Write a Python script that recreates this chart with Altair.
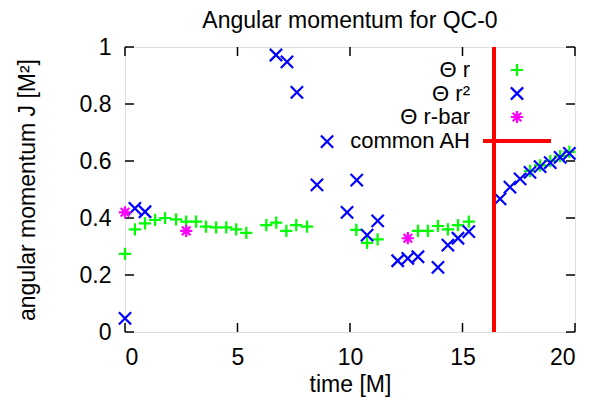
import altair as alt
import pandas as pd

# ---- data ----
r_t = [0, 0.44, 0.89, 1.34, 1.78, 2.27, 2.72, 3.16, 3.6, 4.05, 4.5, 4.94, 5.39,
       6.28, 6.72, 7.17, 7.61, 8.09, 10.28, 10.76, 11.23, 13.02, 13.46, 13.91,
       14.35, 14.8, 15.28, 18.0, 18.45, 18.9, 19.34, 19.75]
r_j = [0.274, 0.36, 0.381, 0.393, 0.40, 0.395, 0.387, 0.387, 0.37, 0.367, 0.367,
       0.36, 0.348, 0.375, 0.384, 0.355, 0.375, 0.37, 0.358, 0.313, 0.325, 0.355,
       0.355, 0.372, 0.36, 0.375, 0.387, 0.565, 0.585, 0.60, 0.617, 0.632]

r2_t = [0, 0.44, 0.89, 6.71, 7.2, 7.64, 8.53, 8.98, 9.87, 10.3, 10.76, 11.23,
        12.12, 12.57, 13.02, 13.91, 14.35, 14.8, 15.28, 16.67, 17.11, 17.56,
        18.0, 18.45, 18.9, 19.34, 19.75]
r2_j = [0.048, 0.434, 0.422, 0.972, 0.948, 0.841, 0.516, 0.668, 0.42, 0.533,
        0.34, 0.39, 0.25, 0.258, 0.264, 0.227, 0.305, 0.329, 0.352, 0.467,
        0.508, 0.537, 0.56, 0.58, 0.594, 0.613, 0.627]

rbar_t = [0, 2.72, 12.57]
rbar_j = [0.42, 0.355, 0.329]

ah_t = [16.4]

x_ticks = [0, 5, 10, 15, 20]
y_ticks = [0, 0.2, 0.4, 0.6, 0.8, 1]

legend_labels = ["Θ r", "Θ r²", "Θ r-bar", "common AH"]
title_text = "Angular momentum for QC-0"
x_title = "time [M]"
y_title = "angular momentum J [M²]"

# ---- styling ----
W, H = 450, 285
FONT = "Liberation Sans"
FS = 23
LFS = 22
GREEN, BLUE, MAGENTA, RED = "#00ff00", "#0000ff", "#ff00ff", "#ff0000"
PLUS = "M-1,0L1,0M0,-1L0,1"
CROSS = "M-1,-1L1,1M-1,1L1,-1"
STAR = "M-1,0L1,0M0,-1L0,1M-0.7,-0.7L0.7,0.7M-0.7,0.7L0.7,-0.7"
MSIZE = 150

xs = alt.Scale(domain=[0, 20], nice=False, zero=False)
ys = alt.Scale(domain=[0, 1], nice=False, zero=False)

x_axis = alt.Axis(values=x_ticks, format="~g", ticks=False, domain=False, grid=False,
                  labelPadding=14, labelFontSize=FS, labelFont=FONT, labelColor="black",
                  title=x_title, titleFontSize=FS, titleFont=FONT, titleFontWeight="normal",
                  titleColor="black", titleX=W / 2, titleY=52, titleBaseline="middle",
                  titleAlign="center")
y_axis = alt.Axis(values=y_ticks, format="~g", ticks=False, domain=False, grid=False,
                  labelPadding=14, labelFontSize=FS, labelFont=FONT, labelColor="black",
                  title=y_title, titleFontSize=FS, titleFont=FONT, titleFontWeight="normal",
                  titleColor="black", titleX=-98, titleY=H / 2, titleAngle=-90,
                  titleBaseline="middle", titleAlign="center")

X = lambda f: alt.X(f"{f}:Q", scale=xs, axis=x_axis)
Y = lambda f: alt.Y(f"{f}:Q", scale=ys, axis=y_axis)


def points(t, j, shape, color):
    df = pd.DataFrame({"t": t, "J": j})
    return alt.Chart(df).mark_point(shape=shape, filled=False, stroke=color,
                                    strokeWidth=2.2, size=MSIZE, opacity=1).encode(
        x=X("t"), y=Y("J"))


g = points(r_t, r_j, PLUS, GREEN)
b = points(r2_t, r2_j, CROSS, BLUE)
m = points(rbar_t, rbar_j, STAR, MAGENTA)

ah = alt.Chart(pd.DataFrame({"t": ah_t, "lo": [0], "hi": [1]})).mark_rule(
    color=RED, strokeWidth=4).encode(x=X("t"), y=Y("lo"), y2="hi")

# inward ticks on all four sides
xt = pd.DataFrame({"v": x_ticks})
yt = pd.DataFrame({"v": y_ticks})
TL = 9
tick_b = alt.Chart(xt).mark_rule(color="black", strokeWidth=1.5).encode(
    x=X("v"), y=alt.value(H), y2=alt.value(H - TL))
tick_t = alt.Chart(xt).mark_rule(color="black", strokeWidth=1.5).encode(
    x=X("v"), y=alt.value(0), y2=alt.value(TL))
tick_l = alt.Chart(yt).mark_rule(color="black", strokeWidth=1.5).encode(
    y=Y("v"), x=alt.value(0), x2=alt.value(TL))
tick_r = alt.Chart(yt).mark_rule(color="black", strokeWidth=1.5).encode(
    y=Y("v"), x=alt.value(W), x2=alt.value(W - TL))

# legend (gnuplot style: label on the left, sample on the right)
LX_TEXT, LX_SYM = 345, 392
rows = [23, 46.5, 70, 94]
leg_layers = []
for lab, ry in zip(legend_labels, rows):
    leg_layers.append(alt.Chart(pd.DataFrame({"l": [lab]})).mark_text(
        align="right", baseline="middle", font=FONT, fontSize=LFS, color="black").encode(
        text="l:N", x=alt.value(LX_TEXT), y=alt.value(ry)))
for shape, color, ry in [(PLUS, GREEN, rows[0]), (CROSS, BLUE, rows[1]), (STAR, MAGENTA, rows[2])]:
    leg_layers.append(alt.Chart(pd.DataFrame({"l": [0]})).mark_point(
        shape=shape, filled=False, stroke=color, strokeWidth=2.2, size=MSIZE, opacity=1).encode(
        x=alt.value(LX_SYM), y=alt.value(ry)))
leg_layers.append(alt.Chart(pd.DataFrame({"l": [0]})).mark_rule(color=RED, strokeWidth=4).encode(
    x=alt.value(358), x2=alt.value(426), y=alt.value(rows[3])))

chart = alt.layer(tick_b, tick_t, tick_l, tick_r, g, b, m, ah, *leg_layers).properties(
    width=W, height=H,
    title=alt.TitleParams(title_text, font=FONT, fontSize=FS, fontWeight="normal",
                          color="black", anchor="middle", offset=3),
    autosize=alt.AutoSizeParams(type="none"),
    padding={"left": 117, "top": 39, "right": 31, "bottom": 70},
).configure_view(stroke="black", strokeWidth=2).configure(background="white")

chart.save("out.html", embed_options={"renderer": "svg", "actions": False})
